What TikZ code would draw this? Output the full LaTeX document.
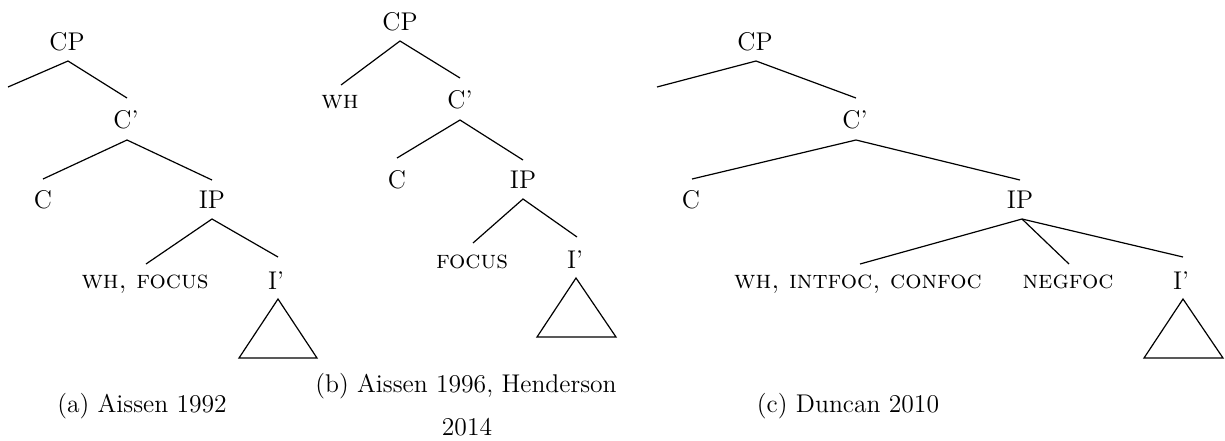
\documentclass[tikz,border=0pt]{standalone}
\usepackage{fontspec}
\begin{document}
\begin{tikzpicture}[x=0.5pt,y=-0.5pt,
  lab/.style={anchor=base,inner sep=0pt,font=\fontsize{12.8}{15}\selectfont},
  captext/.style={anchor=base,inner sep=0pt,font=\fontsize{12.8}{15}\selectfont},
  br/.style={line width=0.6pt}]
\useasboundingbox (0,0) rectangle (1225,440);
% ---------- (a) ----------
\node[lab] (aCP) at (67,50) {CP};
\coordinate (aCPb) at (68,61);
\coordinate (aSpec) at (8,87);
\node[lab] (aCb) at (126,128) {C'};
\coordinate (aCbt) at (127,98);
\coordinate (aCbb) at (127,140);
\node[lab] (aC) at (43,208) {C};
\coordinate (aCt) at (43,179);
\node[lab] (aIP) at (212,208) {IP};
\coordinate (aIPt) at (212,180);
\coordinate (aIPb) at (212,219);
\node[lab] (aWH) at (145,288) {\textsc{wh, focus}};
\coordinate (aWHt) at (146,264);
\node[lab] (aI) at (276,289) {I'};
\coordinate (aIt) at (278,257);
\coordinate (aIb) at (278,299);
\coordinate (aTl) at (239,358);
\coordinate (aTr) at (317,358);
\draw[br] (aSpec) -- (aCPb) -- (aCbt);
\draw[br] (aCt) -- (aCbb) -- (aIPt);
\draw[br] (aWHt) -- (aIPb) -- (aIt);
\draw[br] (aIb) -- (aTl) -- (aTr) -- cycle;
\node[captext] (acap) at (142,412) {(a) Aissen 1992};
% ---------- (b) ----------
\node[lab] (bCP) at (400,30) {CP};
\coordinate (bCPb) at (400,41);
\node[lab] (bWH) at (340,108) {\textsc{wh}};
\coordinate (bWHt) at (341,85);
\node[lab] (bCb) at (460,108) {C'};
\coordinate (bCbt) at (460,78);
\coordinate (bCbb) at (460,120);
\node[lab] (bC) at (397,188) {C};
\coordinate (bCt) at (397,158);
\node[lab] (bIP) at (523,188) {IP};
\coordinate (bIPt) at (523,160);
\coordinate (bIPb) at (523,199);
\node[lab] (bF) at (472,268) {\textsc{focus}};
\coordinate (bFt) at (473,243);
\node[lab] (bI) at (575,268) {I'};
\coordinate (bIt) at (577,237);
\coordinate (bIb) at (576,278);
\coordinate (bTl) at (537,337);
\coordinate (bTr) at (616,337);
\draw[br] (bWHt) -- (bCPb) -- (bCbt);
\draw[br] (bCt) -- (bCbb) -- (bIPt);
\draw[br] (bFt) -- (bIPb) -- (bIt);
\draw[br] (bIb) -- (bTl) -- (bTr) -- cycle;
\node[captext] (bcap) at (466,392) {(b) Aissen 1996, Henderson};
\node[captext] (bcapb) at (467,435) {2014};
% ---------- (c) ----------
\node[lab] (cCP) at (755,50) {CP};
\coordinate (cCPb) at (756,61);
\coordinate (cSpec) at (657,87);
\node[lab] (cCb) at (855,128) {C'};
\coordinate (cCbt) at (856,98);
\coordinate (cCbb) at (856,140);
\node[lab] (cC) at (691,208) {C};
\coordinate (cCt) at (692,179);
\node[lab] (cIP) at (1020,208) {IP};
\coordinate (cIPt) at (1020,180);
\coordinate (cIPb) at (1022,219);
\node[lab] (cWH) at (858,288) {\textsc{wh, intfoc, confoc}};
\coordinate (cWHt) at (860,264);
\node[lab] (cNeg) at (1068,288) {\textsc{negfoc}};
\coordinate (cNegt) at (1069,264);
\node[lab] (cI) at (1181,289) {I'};
\coordinate (cIt) at (1183,257);
\coordinate (cIb) at (1183,299);
\coordinate (cTl) at (1144,358);
\coordinate (cTr) at (1223,358);
\draw[br] (cSpec) -- (cCPb) -- (cCbt);
\draw[br] (cCt) -- (cCbb) -- (cIPt);
\draw[br] (cWHt) -- (cIPb) -- (cIt);
\draw[br] (cIPb) -- (cNegt);
\draw[br] (cIb) -- (cTl) -- (cTr) -- cycle;
\node[captext] (ccap) at (848,412) {(c) Duncan 2010};
\end{tikzpicture}
\end{document}
